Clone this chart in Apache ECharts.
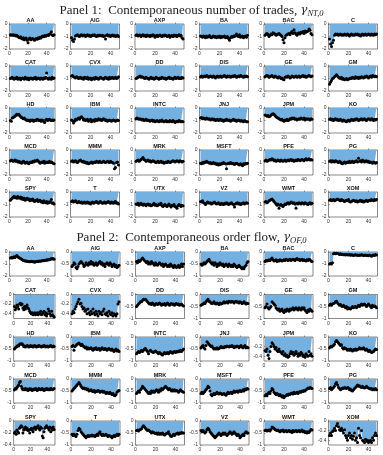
<!DOCTYPE html>
<html><head><meta charset="utf-8">
<script src="https://cdn.jsdelivr.net/npm/echarts@6/dist/echarts.min.js"></script>
<style>html,body{margin:0;padding:0;background:#fff}#c{width:383px;height:455px}</style>
</head><body><div id="c"></div>
<script>
const tickers = ['AA','AIG','AXP','BA','BAC','C','CAT','CVX','DD','DIS','GE','GM','HD','IBM','INTC','JNJ','JPM','KO','MCD','MMM','MRK','MSFT','PFE','PG','SPY','T','UTX','VZ','WMT','XOM'];
const xTicks = [0, 20, 40];

// Panel 1: number of trades
const nt_AA = [-0.85,-0.88,-0.9,-0.85,-0.92,-0.88,-0.95,-0.9,-1.0,-1.05,-1.1,-1.02,-1.15,-1.2,-1.1,-1.25,-1.18,-1.12,-1.3,-1.5,-1.2,-1.12,-1.25,-1.2,-1.15,-1.22,-1.3,-1.2,-1.15,-1.22,-1.1,-1.15,-1.05,-1.12,-1.0,-0.95,-1.02,-0.92,-0.97,-0.9,-0.88,-0.92,-0.82,-0.78,-0.62,-0.88,-0.92,-0.86];
const nt_AIG = [-1.1,-1.3,-1.4,-1.2,-0.95,-0.9,-0.85,-0.95,-1.0,-0.9,-0.85,-0.95,-0.9,-0.88,-1.0,-0.92,-0.85,-0.95,-0.9,-1.0,-0.95,-0.88,-0.92,-0.85,-0.95,-1.0,-0.9,-0.95,-0.88,-0.92,-0.95,-0.9,-1.0,-0.95,-1.2,-0.9,-0.85,-0.95,-0.9,-1.0,-0.92,-0.88,-0.95,-0.9,-1.0,-0.95,-0.9,-1.0];
const nt_AXP = [-0.9,-0.85,-0.95,-0.9,-0.88,-1.0,-0.92,-0.85,-0.95,-0.9,-1.0,-0.88,-0.95,-0.92,-1.0,-0.9,-0.95,-0.85,-0.92,-1.05,-0.95,-0.9,-1.0,-0.92,-0.88,-0.95,-1.0,-0.9,-0.95,-0.88,-0.92,-1.0,-0.95,-0.9,-1.05,-0.95,-0.92,-1.0,-0.88,-0.95,-0.9,-1.0,-0.92,-0.85,-0.95,-0.9,-1.1,-1.2];
const nt_BA = [-0.95,-1.0,-1.05,-0.95,-1.0,-1.1,-0.95,-1.05,-1.0,-0.92,-1.05,-1.1,-1.0,-0.95,-1.05,-1.0,-1.1,-1.0,-1.05,-0.95,-1.1,-1.0,-1.05,-1.0,-0.95,-1.1,-1.05,-1.0,-1.15,-1.3,-1.1,-1.0,-1.05,-0.95,-1.0,-0.9,-0.8,-0.95,-1.0,-0.85,-1.05,-1.0,-0.95,-1.1,-1.0,-0.95,-1.05,-0.9];
const nt_BAC = [-0.9,-0.8,-0.75,-0.85,-1.0,-0.9,-0.8,-0.85,-0.7,-0.75,-0.8,-0.9,-0.85,-0.8,-0.75,-0.85,-0.9,-1.0,-1.25,-1.5,-1.1,-0.9,-0.85,-0.8,-0.75,-0.85,-0.7,-0.6,-0.75,-0.45,-0.7,-0.8,-0.9,-0.75,-0.7,-0.8,-0.65,-0.7,-0.6,-0.75,-0.55,-0.65,-0.6,-0.55,-0.4,-0.5,-0.75,-0.85];
const nt_C = [-1.2,-1.6,-1.8,-1.5,-1.3,-0.9,-0.8,-0.85,-0.8,-0.9,-0.85,-0.8,-0.9,-0.85,-0.9,-0.8,-0.85,-0.9,-0.8,-0.85,-0.95,-0.85,-0.8,-0.9,-0.85,-0.9,-0.8,-0.85,-0.8,-0.9,-0.85,-0.95,-0.85,-0.8,-0.9,-0.85,-0.8,-0.9,-0.85,-0.8,-0.85,-0.9,-0.8,-0.85,-0.9,-0.8,-0.85,-0.8];
const nt_CAT = [-1.0,-0.95,-0.9,-1.0,-1.05,-0.95,-1.0,-0.9,-1.05,-1.0,-0.95,-1.1,-1.0,-0.95,-1.0,-1.05,-0.9,-1.0,-1.05,-0.95,-1.1,-1.0,-0.95,-1.0,-1.05,-0.95,-1.0,-0.9,-1.05,-1.0,-0.95,-1.0,-1.05,-0.95,-1.0,-1.05,-0.95,-1.0,-0.9,-0.55,-1.0,-1.05,-0.95,-1.0,-1.05,-0.9,-1.0,-0.95];
const nt_CVX = [-0.8,-0.75,-0.85,-0.9,-0.95,-0.85,-0.9,-1.0,-0.95,-0.9,-1.0,-0.95,-1.05,-0.9,-0.95,-1.0,-0.9,-1.05,-1.0,-0.95,-1.1,-1.0,-0.95,-1.05,-0.9,-1.0,-0.95,-1.05,-1.0,-0.9,-0.95,-1.0,-1.05,-0.95,-0.9,-1.0,-0.95,-1.05,-0.9,-1.0,-0.95,-0.9,-1.0,-0.95,-0.9,-1.0,-0.95,-0.85];
const nt_DD = [-1.0,-0.95,-0.9,-0.85,-0.8,-0.9,-0.85,-0.9,-0.95,-1.0,-0.9,-0.95,-1.0,-1.05,-0.95,-0.9,-1.0,-0.95,-1.05,-1.0,-0.9,-0.95,-1.0,-1.05,-0.95,-1.0,-0.9,-0.95,-1.0,-0.95,-1.05,-1.0,-0.95,-0.9,-1.0,-0.95,-1.0,-1.05,-0.95,-0.9,-1.0,-0.95,-0.9,-1.0,-0.95,-1.0,-0.9,-0.95];
const nt_DIS = [-0.85,-0.8,-0.9,-0.85,-0.8,-0.85,-0.75,-0.8,-0.9,-0.85,-0.8,-0.85,-0.9,-0.8,-0.85,-0.95,-0.85,-0.8,-0.9,-0.85,-0.8,-0.9,-0.85,-0.8,-0.75,-0.85,-0.9,-0.8,-0.85,-0.8,-0.9,-0.85,-0.8,-0.85,-0.75,-0.8,-0.9,-0.85,-0.8,-0.85,-0.75,-0.8,-0.85,-0.9,-0.8,-0.85,-0.8,-0.85];
const nt_GE = [-0.85,-0.8,-0.75,-0.8,-0.9,-0.85,-0.8,-0.75,-0.85,-0.9,-0.8,-0.85,-0.9,-0.95,-0.85,-0.9,-1.0,-0.95,-1.05,-1.1,-0.9,-0.85,-0.9,-0.8,-0.85,-0.95,-0.9,-0.8,-0.85,-0.9,-0.85,-0.8,-0.9,-0.85,-0.8,-0.9,-0.85,-0.8,-0.75,-0.85,-0.8,-0.9,-0.85,-0.8,-0.75,-0.8,-0.85,-0.8];
const nt_GM = [-1.45,-1.3,-1.15,-1.0,-0.95,-0.85,-0.8,-0.7,-0.8,-0.9,-0.95,-1.0,-0.9,-1.05,-1.0,-1.1,-1.05,-1.0,-1.1,-1.05,-1.0,-0.95,-1.0,-0.9,-0.95,-1.0,-0.85,-0.95,-0.9,-1.0,-0.9,-0.95,-0.85,-0.9,-0.95,-0.85,-0.9,-0.8,-0.85,-0.95,-0.85,-0.8,-0.9,-0.75,-0.8,-0.85,-0.8,-0.85];
const nt_HD = [-1.0,-1.05,-0.8,-0.75,-0.7,-0.65,-0.55,-0.5,-0.55,-0.5,-0.6,-0.7,-0.75,-0.8,-0.85,-0.8,-0.9,-0.95,-1.0,-0.95,-1.0,-1.05,-0.95,-1.0,-0.95,-1.05,-1.0,-0.95,-1.0,-0.9,-0.95,-1.0,-0.95,-1.05,-0.95,-1.0,-1.1,-1.15,-0.95,-0.9,-1.0,-0.95,-0.9,-0.95,-1.0,-0.95,-1.0,-0.95];
const nt_IBM = [-0.95,-1.0,-1.2,-1.05,-0.9,-0.95,-0.85,-0.8,-0.9,-0.75,-0.7,-0.8,-0.95,-0.9,-1.0,-0.95,-0.9,-1.05,-1.0,-0.9,-1.1,-1.0,-0.95,-1.05,-0.9,-1.0,-0.95,-0.85,-0.95,-0.9,-1.0,-0.95,-0.85,-0.9,-1.0,-0.95,-1.05,-1.0,-0.95,-1.0,-1.05,-1.0,-0.95,-1.0,-1.05,-1.0,-0.95,-1.0];
const nt_INTC = [-0.85,-0.8,-0.85,-0.9,-0.85,-0.9,-0.95,-0.9,-1.0,-0.95,-0.9,-1.0,-0.95,-1.0,-1.05,-1.0,-0.95,-1.05,-1.0,-1.1,-1.05,-1.0,-1.05,-1.1,-1.0,-1.05,-0.95,-1.05,-1.1,-1.05,-1.0,-1.1,-1.05,-1.1,-1.0,-1.05,-1.1,-1.0,-1.05,-1.15,-1.1,-1.05,-1.1,-1.0,-1.05,-1.1,-1.05,-1.1];
const nt_JNJ = [-0.8,-0.75,-0.85,-0.8,-0.85,-0.9,-0.8,-0.85,-0.9,-0.85,-0.95,-0.9,-0.85,-0.95,-0.9,-1.0,-0.95,-0.9,-1.0,-0.95,-0.9,-1.0,-0.95,-1.05,-0.95,-1.0,-0.9,-0.95,-1.0,-0.95,-1.05,-1.0,-0.95,-0.9,-1.0,-0.95,-1.05,-1.0,-0.95,-1.0,-1.05,-1.0,-1.05,-1.1,-1.0,-1.05,-1.1,-1.1];
const nt_JPM = [-0.55,-0.6,-0.65,-0.6,-0.7,-0.65,-0.55,-0.5,-0.45,-0.5,-0.6,-0.7,-0.75,-0.8,-0.85,-0.9,-0.95,-0.9,-1.0,-1.05,-0.95,-1.0,-0.9,-1.0,-0.95,-0.85,-0.9,-0.8,-0.85,-0.8,-0.9,-0.85,-0.95,-0.9,-0.85,-0.9,-0.8,-0.85,-0.9,-0.8,-0.95,-0.85,-0.9,-0.85,-0.9,-0.95,-0.85,-0.9];
const nt_KO = [-0.9,-0.85,-0.95,-0.9,-1.0,-0.9,-0.85,-0.95,-0.9,-1.0,-0.95,-0.9,-1.0,-1.05,-0.95,-1.0,-1.05,-1.1,-1.0,-0.95,-1.05,-1.0,-0.9,-0.95,-1.0,-0.9,-0.95,-0.85,-0.9,-1.0,-0.95,-0.9,-0.85,-0.95,-0.9,-0.85,-0.95,-1.0,-0.9,-0.85,-0.9,-0.95,-0.85,-0.9,-1.0,-0.9,-0.95,-0.9];
const nt_MCD = [-0.85,-0.8,-0.85,-0.9,-0.85,-0.8,-0.9,-0.85,-0.95,-0.9,-1.0,-0.95,-1.05,-1.0,-0.9,-0.95,-1.05,-1.0,-0.95,-1.05,-1.1,-1.0,-0.95,-1.0,-0.9,-0.95,-0.85,-0.9,-0.85,-0.8,-0.9,-0.95,-1.05,-1.0,-0.95,-1.0,-0.9,-1.05,-0.95,-1.0,-0.95,-1.0,-0.9,-1.0,-0.95,-1.0,-1.05,-1.1];
const nt_MMM = [-0.9,-0.85,-0.95,-0.9,-0.85,-0.95,-1.0,-0.9,-0.85,-0.8,-0.9,-0.95,-0.9,-1.0,-0.95,-1.05,-1.0,-1.1,-1.05,-1.0,-0.95,-1.05,-1.0,-0.95,-1.0,-0.9,-0.95,-1.0,-0.9,-0.95,-1.0,-0.95,-0.9,-0.95,-1.0,-0.95,-0.9,-0.95,-1.0,-0.9,-0.95,-1.0,-1.05,-1.5,-1.4,-1.0,-0.95,-1.2];
const nt_MRK = [-0.9,-0.85,-0.8,-0.9,-0.85,-0.75,-0.7,-0.6,-0.75,-0.8,-0.9,-0.85,-0.8,-0.9,-0.85,-0.95,-0.9,-0.85,-0.9,-0.95,-1.0,-0.95,-0.9,-1.0,-0.95,-0.9,-1.0,-0.95,-1.05,-1.0,-0.95,-1.0,-0.9,-0.95,-1.0,-0.95,-0.9,-0.85,-0.9,-0.95,-0.9,-0.85,-0.9,-0.95,-0.85,-0.9,-0.95,-0.9];
const nt_MSFT = [-1.05,-1.1,-1.0,-1.05,-0.95,-1.0,-0.9,-0.95,-1.0,-1.05,-1.0,-1.1,-1.05,-1.0,-1.1,-1.05,-1.15,-1.1,-1.2,-1.1,-1.15,-1.05,-1.1,-1.0,-1.05,-1.1,-1.5,-1.1,-1.05,-1.1,-1.0,-1.05,-1.1,-1.05,-1.15,-1.1,-1.05,-1.1,-1.15,-1.2,-1.1,-1.15,-1.25,-1.1,-1.15,-1.05,-1.1,-1.05];
const nt_PFE = [-0.85,-0.8,-0.9,-0.85,-0.8,-0.75,-0.8,-0.7,-0.75,-0.85,-0.8,-0.9,-0.85,-0.8,-0.85,-0.9,-0.8,-0.85,-0.9,-0.85,-0.8,-0.9,-0.85,-0.8,-0.85,-0.8,-0.75,-0.85,-0.8,-0.9,-0.85,-0.8,-0.85,-0.75,-0.8,-0.85,-0.8,-0.75,-0.8,-0.85,-0.75,-0.7,-0.8,-0.75,-0.7,-0.8,-0.75,-0.8];
const nt_PG = [-0.9,-0.85,-0.95,-0.85,-0.9,-0.95,-0.85,-0.9,-0.95,-1.0,-0.9,-0.95,-1.05,-1.1,-1.0,-0.95,-1.05,-1.0,-0.95,-1.0,-0.9,-1.0,-0.95,-0.9,-1.0,-0.95,-0.9,-0.85,-0.95,-0.65,-0.9,-0.85,-0.95,-0.8,-0.85,-0.95,-0.9,-0.85,-0.95,-0.9,-1.0,-0.95,-1.0,-1.05,-0.95,-1.0,-1.05,-1.0];
const nt_SPY = [-0.65,-0.55,-0.5,-0.4,-0.35,-0.45,-0.4,-0.5,-0.35,-0.45,-0.5,-0.4,-0.55,-0.45,-0.6,-0.5,-0.65,-0.55,-0.5,-0.6,-0.55,-0.7,-0.6,-0.65,-0.55,-0.7,-0.75,-0.65,-0.7,-0.6,-0.75,-0.7,-0.65,-0.8,-0.75,-0.85,-0.7,-0.8,-0.85,-0.75,-0.9,-0.8,-0.85,-0.75,-0.6,-0.9,-0.85,-0.95];
const nt_T = [-0.75,-0.7,-0.8,-0.75,-0.7,-0.8,-0.85,-0.75,-0.8,-0.85,-0.8,-0.9,-0.85,-0.8,-0.9,-0.85,-0.8,-0.9,-0.85,-0.95,-0.85,-0.8,-0.9,-0.85,-0.8,-0.75,-0.85,-0.9,-0.8,-0.75,-0.85,-0.9,-0.85,-0.8,-0.9,-0.85,-0.8,-0.75,-0.85,-0.9,-0.8,-0.85,-0.9,-0.8,-0.75,-0.9,-0.85,-0.95];
const nt_UTX = [-0.95,-1.0,-0.9,-1.05,-0.95,-0.9,-1.0,-1.05,-0.95,-1.0,-1.1,-1.0,-0.95,-1.05,-1.0,-1.1,-1.05,-1.0,-0.9,-1.05,-1.0,-1.1,-1.05,-0.95,-1.0,-0.9,-1.1,-1.15,-1.05,-1.0,-1.1,-1.15,-1.05,-0.95,-1.1,-1.2,-1.05,-1.1,-1.0,-1.15,-1.2,-1.3,-1.1,-1.0,-1.05,-1.15,-1.05,-1.1];
const nt_VZ = [-0.75,-0.8,-0.7,-0.85,-0.9,-1.0,-0.9,-0.8,-0.85,-0.9,-0.85,-0.95,-0.9,-0.85,-0.8,-0.9,-0.95,-0.9,-0.85,-0.95,-1.0,-0.9,-0.95,-1.0,-0.9,-0.95,-0.85,-0.9,-1.0,-0.95,-0.9,-0.85,-0.95,-1.0,-1.2,-0.95,-0.9,-0.85,-0.95,-0.9,-1.0,-0.95,-0.9,-0.85,-0.95,-0.9,-0.85,-0.9];
const nt_WMT = [-0.8,-0.75,-0.85,-0.8,-0.7,-0.65,-0.6,-0.55,-0.65,-0.75,-0.85,-0.95,-1.05,-0.95,-1.3,-1.05,-1.0,-1.1,-1.15,-1.05,-0.95,-1.0,-0.9,-0.85,-0.95,-0.9,-0.8,-0.85,-0.9,-0.85,-0.95,-1.3,-0.9,-0.95,-0.85,-0.9,-0.95,-0.85,-0.9,-0.95,-0.85,-0.9,-0.95,-1.0,-0.9,-0.85,-0.95,-0.9];
const nt_XOM = [-0.65,-0.6,-0.7,-0.65,-0.6,-0.7,-0.65,-0.6,-0.55,-0.6,-0.65,-0.7,-0.6,-0.65,-0.7,-0.75,-0.7,-0.65,-0.7,-0.6,-0.75,-0.8,-0.75,-0.7,-0.65,-0.7,-0.75,-0.7,-0.8,-0.75,-0.7,-0.65,-0.75,-0.7,-0.8,-0.75,-0.7,-0.65,-0.75,-0.7,-0.65,-0.7,-0.6,-0.65,-0.7,-0.6,-0.65,-0.6];

// Panel 2: order flow
const of_AA = [-0.5,-0.45,-0.5,-0.45,-0.4,-0.45,-0.35,-0.3,-0.4,-0.45,-0.5,-0.55,-0.6,-0.65,-0.7,-0.72,-0.75,-0.75,-0.78,-0.8,-0.8,-0.82,-0.8,-0.78,-0.82,-0.8,-0.85,-0.82,-0.8,-0.78,-0.8,-0.75,-0.78,-0.75,-0.72,-0.7,-0.72,-0.68,-0.7,-0.65,-0.68,-0.62,-0.65,-0.6,-0.55,-0.58,-0.55,-0.6];
const of_AIG = [-0.6,-0.55,-0.45,-0.5,-0.65,-0.7,-0.6,-0.5,-0.45,-0.4,-0.45,-0.5,-0.6,-0.55,-0.45,-0.5,-0.55,-0.45,-0.5,-0.4,-0.5,-0.45,-0.55,-0.5,-0.45,-0.55,-0.5,-0.45,-0.4,-0.5,-0.45,-0.55,-0.5,-0.6,-0.5,-0.45,-0.5,-0.55,-0.45,-0.5,-0.6,-0.55,-0.5,-0.6,-0.55,-0.65,-0.6,-0.55];
const of_AXP = [-0.4,-0.45,-0.35,-0.4,-0.35,-0.3,-0.25,-0.3,-0.35,-0.4,-0.45,-0.4,-0.5,-0.45,-0.5,-0.4,-0.45,-0.5,-0.55,-0.45,-0.5,-0.55,-0.5,-0.45,-0.5,-0.55,-0.5,-0.6,-0.55,-0.5,-0.55,-0.6,-0.55,-0.6,-0.5,-0.55,-0.6,-0.65,-0.55,-0.6,-0.65,-0.6,-0.55,-0.65,-0.6,-0.5,-0.6,-0.5];
const of_BA = [-0.5,-0.55,-0.5,-0.45,-0.5,-0.45,-0.4,-0.35,-0.3,-0.4,-0.45,-0.5,-0.45,-0.55,-0.45,-0.5,-0.6,-0.5,-0.55,-0.45,-0.5,-0.55,-0.5,-0.6,-0.55,-0.5,-0.55,-0.6,-0.5,-0.55,-0.6,-0.55,-0.6,-0.5,-0.55,-0.6,-0.65,-0.6,-0.55,-0.6,-0.65,-0.7,-0.65,-0.7,-0.6,-0.55,-0.45,-0.4];
const of_BAC = [-0.8,-0.7,-0.75,-0.7,-0.65,-0.7,-0.6,-0.5,-0.65,-0.75,-0.7,-0.65,-0.8,-0.7,-0.75,-0.65,-0.7,-0.75,-0.7,-0.65,-0.7,-0.6,-0.65,-0.7,-0.65,-0.6,-0.7,-0.65,-0.6,-0.65,-0.7,-0.6,-0.55,-0.65,-0.6,-0.7,-0.65,-0.6,-0.7,-0.65,-0.7,-0.75,-0.65,-0.7,-0.6,-0.65,-0.75,-0.8];
const of_C = [-1.0,-0.95,-1.0,-0.9,-0.15,-0.1,-0.15,-0.1,-0.12,-0.15,-0.2,-0.15,-0.2,-0.18,-0.22,-0.2,-0.25,-0.2,-0.22,-0.25,-0.2,-0.28,-0.22,-0.25,-0.3,-0.25,-0.22,-0.28,-0.25,-0.3,-0.25,-0.28,-0.22,-0.25,-0.3,-0.28,-0.25,-0.3,-0.28,-0.32,-0.25,-0.3,-0.35,-0.28,-0.25,-0.3,-0.2,-0.25];
const of_CAT = [-0.25,-0.32,-0.28,-0.22,-0.25,-0.3,-0.2,-0.18,-0.22,-0.2,-0.28,-0.32,-0.25,-0.3,-0.25,-0.22,-0.28,-0.3,-0.35,-0.38,-0.4,-0.38,-0.42,-0.4,-0.38,-0.42,-0.4,-0.38,-0.42,-0.38,-0.4,-0.35,-0.42,-0.4,-0.38,-0.35,-0.42,-0.38,-0.45,-0.4,-0.3,-0.35,-0.4,-0.45,-0.35,-0.42,-0.45,-0.47];
const of_CVX = [-0.4,-0.35,-0.38,-0.3,-0.25,-0.2,-0.15,-0.1,-0.2,-0.18,-0.25,-0.3,-0.28,-0.35,-0.32,-0.4,-0.3,-0.38,-0.42,-0.35,-0.4,-0.3,-0.38,-0.42,-0.35,-0.4,-0.45,-0.35,-0.4,-0.38,-0.42,-0.35,-0.3,-0.4,-0.42,-0.38,-0.45,-0.35,-0.4,-0.42,-0.38,-0.45,-0.4,-0.42,-0.45,-0.4,-0.2,-0.15];
const of_DD = [-0.5,-0.45,-0.4,-0.35,-0.3,-0.3,-0.25,-0.2,-0.22,-0.2,-0.25,-0.3,-0.35,-0.4,-0.38,-0.42,-0.35,-0.4,-0.45,-0.4,-0.38,-0.42,-0.4,-0.35,-0.4,-0.45,-0.4,-0.42,-0.38,-0.45,-0.4,-0.35,-0.42,-0.45,-0.4,-0.38,-0.42,-0.4,-0.45,-0.4,-0.38,-0.42,-0.4,-0.45,-0.42,-0.4,-0.45,-0.48];
const of_DIS = [-0.45,-0.42,-0.4,-0.35,-0.38,-0.3,-0.25,-0.2,-0.28,-0.3,-0.35,-0.38,-0.35,-0.3,-0.38,-0.4,-0.35,-0.38,-0.42,-0.35,-0.4,-0.38,-0.35,-0.3,-0.35,-0.32,-0.3,-0.35,-0.28,-0.3,-0.32,-0.28,-0.3,-0.35,-0.3,-0.28,-0.32,-0.3,-0.35,-0.3,-0.32,-0.38,-0.35,-0.3,-0.35,-0.4,-0.35,-0.38];
const of_GE = [-0.55,-0.5,-0.4,-0.55,-0.6,-0.55,-0.5,-0.3,-0.35,-0.4,-0.45,-0.55,-0.6,-0.65,-0.6,-0.7,-0.65,-0.6,-0.7,-0.75,-0.65,-0.7,-0.6,-0.65,-0.7,-0.6,-0.65,-0.6,-0.55,-0.65,-0.6,-0.55,-0.6,-0.65,-0.55,-0.6,-0.65,-0.55,-0.6,-0.55,-0.65,-0.7,-0.75,-0.65,-0.7,-0.6,-0.65,-0.7];
const of_GM = [-0.45,-0.4,-0.45,-0.4,-0.38,-0.35,-0.3,-0.28,-0.35,-0.4,-0.45,-0.42,-0.48,-0.5,-0.45,-0.5,-0.55,-0.5,-0.6,-0.55,-0.58,-0.6,-0.55,-0.5,-0.55,-0.52,-0.5,-0.55,-0.5,-0.45,-0.5,-0.45,-0.4,-0.45,-0.42,-0.4,-0.45,-0.5,-0.45,-0.4,-0.45,-0.5,-0.55,-0.45,-0.5,-0.48,-0.5,-0.55];
const of_HD = [-0.5,-0.45,-0.42,-0.4,-0.35,-0.38,-0.3,-0.28,-0.3,-0.28,-0.32,-0.4,-0.38,-0.42,-0.4,-0.35,-0.38,-0.42,-0.4,-0.35,-0.4,-0.38,-0.42,-0.38,-0.35,-0.4,-0.42,-0.38,-0.4,-0.35,-0.38,-0.4,-0.42,-0.38,-0.4,-0.35,-0.38,-0.42,-0.4,-0.38,-0.42,-0.4,-0.38,-0.35,-0.4,-0.42,-0.38,-0.4];
const of_IBM = [-0.4,-0.35,-0.55,-0.4,-0.35,-0.3,-0.28,-0.25,-0.3,-0.35,-0.3,-0.38,-0.4,-0.45,-0.42,-0.5,-0.45,-0.5,-0.48,-0.45,-0.5,-0.55,-0.48,-0.5,-0.45,-0.52,-0.5,-0.48,-0.55,-0.5,-0.45,-0.5,-0.52,-0.48,-0.5,-0.55,-0.5,-0.48,-0.52,-0.55,-0.5,-0.55,-0.6,-0.55,-0.5,-0.58,-0.55,-0.6];
const of_INTC = [-0.7,-0.65,-0.6,-0.65,-0.6,-0.55,-0.6,-0.55,-0.5,-0.48,-0.55,-0.6,-0.7,-0.58,-0.55,-0.6,-0.62,-0.65,-0.6,-0.58,-0.62,-0.65,-0.7,-0.65,-0.68,-0.72,-0.75,-0.7,-0.65,-0.7,-0.68,-0.65,-0.7,-0.65,-0.6,-0.65,-0.68,-0.62,-0.6,-0.65,-0.6,-0.62,-0.58,-0.6,-0.55,-0.6,-0.55,-0.5];
const of_JNJ = [-0.45,-0.4,-0.35,-0.45,-0.5,-0.35,-0.2,-0.25,-0.3,-0.35,-0.4,-0.38,-0.45,-0.5,-0.48,-0.5,-0.45,-0.5,-0.48,-0.45,-0.4,-0.45,-0.42,-0.45,-0.4,-0.42,-0.38,-0.4,-0.42,-0.38,-0.4,-0.35,-0.4,-0.45,-0.4,-0.42,-0.38,-0.4,-0.45,-0.4,-0.35,-0.42,-0.45,-0.4,-0.35,-0.45,-0.42,-0.45];
const of_JPM = [-0.28,-0.3,-0.25,-0.38,-0.45,-0.3,-0.2,-0.12,-0.15,-0.2,-0.25,-0.22,-0.28,-0.3,-0.25,-0.3,-0.32,-0.35,-0.3,-0.38,-0.35,-0.4,-0.38,-0.42,-0.4,-0.35,-0.3,-0.35,-0.32,-0.38,-0.35,-0.3,-0.35,-0.4,-0.35,-0.38,-0.32,-0.35,-0.4,-0.38,-0.42,-0.35,-0.38,-0.4,-0.3,-0.38,-0.35,-0.4];
const of_KO = [-0.45,-0.4,-0.42,-0.38,-0.35,-0.3,-0.2,-0.15,-0.2,-0.25,-0.3,-0.35,-0.32,-0.45,-0.5,-0.45,-0.48,-0.5,-0.55,-0.52,-0.55,-0.5,-0.55,-0.58,-0.52,-0.55,-0.5,-0.55,-0.52,-0.5,-0.45,-0.5,-0.48,-0.5,-0.45,-0.5,-0.55,-0.5,-0.55,-0.6,-0.55,-0.6,-0.65,-0.62,-0.6,-0.55,-0.5,-0.52];
const of_MCD = [-0.45,-0.4,-0.42,-0.35,-0.3,-0.25,-0.15,-0.1,-0.3,-0.4,-0.45,-0.42,-0.45,-0.4,-0.45,-0.42,-0.48,-0.45,-0.4,-0.45,-0.42,-0.48,-0.45,-0.42,-0.45,-0.4,-0.42,-0.48,-0.45,-0.4,-0.42,-0.45,-0.42,-0.4,-0.45,-0.48,-0.42,-0.45,-0.4,-0.42,-0.45,-0.42,-0.45,-0.4,-0.42,-0.45,-0.42,-0.4];
const of_MMM = [-0.5,-0.45,-0.4,-0.35,-0.3,-0.25,-0.2,-0.15,-0.22,-0.3,-0.35,-0.4,-0.38,-0.42,-0.4,-0.45,-0.42,-0.5,-0.48,-0.45,-0.5,-0.52,-0.48,-0.55,-0.5,-0.52,-0.48,-0.5,-0.55,-0.52,-0.5,-0.55,-0.52,-0.55,-0.6,-0.55,-0.58,-0.6,-0.55,-0.6,-0.65,-0.6,-0.68,-0.7,-0.65,-0.55,-0.5,-0.48];
const of_MRK = [-0.6,-0.55,-0.5,-0.55,-0.45,-0.4,-0.3,-0.35,-0.4,-0.45,-0.5,-0.55,-0.6,-0.55,-0.6,-0.5,-0.55,-0.5,-0.55,-0.5,-0.45,-0.5,-0.55,-0.45,-0.5,-0.4,-0.45,-0.4,-0.35,-0.3,-0.35,-0.4,-0.45,-0.4,-0.45,-0.5,-0.45,-0.5,-0.45,-0.5,-0.48,-0.5,-0.55,-0.5,-0.45,-0.5,-0.52,-0.55];
const of_MSFT = [-0.6,-0.55,-0.6,-0.55,-0.5,-0.45,-0.4,-0.3,-0.35,-0.5,-0.65,-0.7,-0.65,-0.6,-0.65,-0.6,-0.55,-0.6,-0.62,-0.58,-0.6,-0.65,-0.62,-0.6,-0.65,-0.68,-0.6,-0.55,-0.6,-0.58,-0.55,-0.6,-0.55,-0.5,-0.55,-0.52,-0.5,-0.55,-0.5,-0.48,-0.52,-0.5,-0.45,-0.5,-0.42,-0.45,-0.4,-0.42];
const of_PFE = [-0.7,-0.65,-0.7,-0.6,-0.55,-0.6,-0.5,-0.4,-0.45,-0.55,-0.6,-0.65,-0.6,-0.65,-0.7,-0.65,-0.7,-0.75,-0.7,-0.78,-0.72,-0.7,-0.65,-0.68,-0.62,-0.65,-0.6,-0.58,-0.62,-0.55,-0.6,-0.58,-0.55,-0.6,-0.55,-0.52,-0.55,-0.5,-0.52,-0.48,-0.5,-0.45,-0.42,-0.38,-0.4,-0.35,-0.38,-0.4];
const of_PG = [-0.4,-0.35,-0.45,-0.4,-0.35,-0.3,-0.2,-0.15,-0.25,-0.35,-0.4,-0.45,-0.42,-0.38,-0.4,-0.35,-0.38,-0.4,-0.35,-0.38,-0.45,-0.42,-0.48,-0.5,-0.45,-0.4,-0.35,-0.3,-0.25,-0.3,-0.28,-0.32,-0.35,-0.3,-0.35,-0.38,-0.35,-0.3,-0.35,-0.38,-0.4,-0.42,-0.4,-0.45,-0.42,-0.45,-0.4,-0.45];
const of_SPY = [-0.2,-0.18,-0.22,-0.15,-0.18,-0.2,-0.12,-0.1,-0.08,-0.1,-0.2,-0.15,-0.12,-0.1,-0.14,-0.12,-0.16,-0.15,-0.2,-0.14,-0.12,-0.15,-0.18,-0.12,-0.1,-0.14,-0.12,-0.1,-0.08,-0.12,-0.15,-0.1,-0.12,-0.25,-0.28,-0.18,-0.12,-0.1,-0.08,-0.1,-0.12,-0.15,-0.1,-0.18,-0.12,-0.15,-0.1,-0.14];
const of_T = [-0.55,-0.6,-0.55,-0.6,-0.65,-0.55,-0.4,-0.3,-0.35,-0.45,-0.5,-0.55,-0.6,-0.65,-0.7,-0.65,-0.6,-0.65,-0.6,-0.62,-0.58,-0.62,-0.6,-0.65,-0.6,-0.55,-0.6,-0.5,-0.45,-0.55,-0.6,-0.55,-0.6,-0.58,-0.55,-0.6,-0.65,-0.6,-0.62,-0.65,-0.7,-0.65,-0.6,-0.65,-0.6,-0.55,-0.6,-0.55];
const of_UTX = [-0.4,-0.38,-0.42,-0.38,-0.35,-0.32,-0.25,-0.2,-0.25,-0.3,-0.35,-0.4,-0.38,-0.42,-0.45,-0.5,-0.45,-0.48,-0.5,-0.52,-0.5,-0.55,-0.5,-0.55,-0.52,-0.55,-0.5,-0.55,-0.58,-0.55,-0.52,-0.5,-0.45,-0.55,-0.62,-0.65,-0.6,-0.55,-0.6,-0.55,-0.52,-0.5,-0.55,-0.5,-0.52,-0.48,-0.5,-0.5];
const of_VZ = [-0.4,-0.45,-0.4,-0.45,-0.5,-0.45,-0.35,-0.3,-0.35,-0.45,-0.5,-0.55,-0.6,-0.65,-0.7,-0.65,-0.6,-0.55,-0.5,-0.55,-0.6,-0.55,-0.5,-0.55,-0.5,-0.55,-0.6,-0.55,-0.5,-0.45,-0.5,-0.55,-0.5,-0.45,-0.5,-0.55,-0.6,-0.55,-0.6,-0.7,-0.65,-0.6,-0.55,-0.6,-0.5,-0.45,-0.5,-0.5];
const of_WMT = [-0.4,-0.38,-0.42,-0.4,-0.38,-0.42,-0.35,-0.25,-0.28,-0.3,-0.35,-0.38,-0.4,-0.38,-0.42,-0.45,-0.4,-0.42,-0.38,-0.45,-0.42,-0.4,-0.45,-0.42,-0.4,-0.45,-0.42,-0.48,-0.4,-0.45,-0.42,-0.4,-0.45,-0.42,-0.4,-0.45,-0.42,-0.38,-0.45,-0.42,-0.48,-0.45,-0.5,-0.45,-0.48,-0.42,-0.35,-0.38];
const of_XOM = [-0.3,-0.25,-0.3,-0.22,-0.2,-0.15,-0.2,-0.1,-0.05,-0.12,-0.18,-0.2,-0.15,-0.2,-0.25,-0.18,-0.3,-0.35,-0.4,-0.3,-0.25,-0.35,-0.3,-0.38,-0.32,-0.25,-0.4,-0.35,-0.45,-0.15,-0.3,-0.35,-0.2,-0.4,-0.42,-0.45,-0.38,-0.42,-0.4,-0.45,-0.42,-0.4,-0.45,-0.35,-0.4,-0.3,-0.25,-0.3];

const ntData = [nt_AA,nt_AIG,nt_AXP,nt_BA,nt_BAC,nt_C,nt_CAT,nt_CVX,nt_DD,nt_DIS,nt_GE,nt_GM,nt_HD,nt_IBM,nt_INTC,nt_JNJ,nt_JPM,nt_KO,nt_MCD,nt_MMM,nt_MRK,nt_MSFT,nt_PFE,nt_PG,nt_SPY,nt_T,nt_UTX,nt_VZ,nt_WMT,nt_XOM];
const ofData = [of_AA,of_AIG,of_AXP,of_BA,of_BAC,of_C,of_CAT,of_CVX,of_DD,of_DIS,of_GE,of_GM,of_HD,of_IBM,of_INTC,of_JNJ,of_JPM,of_KO,of_MCD,of_MMM,of_MRK,of_MSFT,of_PFE,of_PG,of_SPY,of_T,of_UTX,of_VZ,of_WMT,of_XOM];

// y-axis lower limits and tick labels
const ntMin = -2;
const ntTicks = [0, -1, -2];
const ofMin = [-2,-1,-1,-1,-2,-2, -0.5,-0.5,-1,-1,-1,-1, -1,-1,-1,-1,-0.5,-1, -1,-1,-1,-1,-1,-1, -0.4,-1,-1,-1,-1,-0.5];
const T1 = [0,-1,-2], T5 = [0,-0.5,-1], T2 = [0,-0.2,-0.4];
const ofTicks = [T1,T5,T5,T5,T1,T1, T2,T2,T5,T5,T5,T5, T5,T5,T5,T5,T2,T5, T5,T5,T5,T5,T5,T5, T2,T5,T5,T5,T5,T2];

// layout
const colLeft1 = [6, 70.5, 135, 199.5, 264, 328.5];
const colLeft2 = [6, 71, 135.5, 200, 264, 328.5];
const plotW = 49;
const rowTop1 = [24, 66, 108, 150, 192];
const rowTop2 = [252, 294.5, 337, 379, 421];
const plotH1 = 25, plotH2 = 24;
const fill = '#74b0e0';

const grids = [], xAxes = [], yAxes = [], series = [], titles = [];
function addPlot(idx, name, data, left, top, h, ymin, yticks) {
  grids.push({left: left, top: top, width: plotW, height: h, show: true, borderColor: '#3a3a3a', borderWidth: 0.6, backgroundColor: '#fff', containLabel: false});
  xAxes.push({type: 'value', gridIndex: idx, min: 0, max: 49,
    axisLine: {show: false}, splitLine: {show: false},
    axisTick: {show: true, inside: true, length: 1.5, lineStyle: {color: '#3a3a3a', width: 0.5}, customValues: xTicks},
    axisLabel: {show: true, fontSize: 5, color: '#333', margin: 2.5, fontFamily: 'Liberation Sans', customValues: xTicks}});
  yAxes.push({type: 'value', gridIndex: idx, min: ymin, max: 0,
    axisLine: {show: false}, splitLine: {show: false},
    axisTick: {show: true, inside: true, length: 1.5, lineStyle: {color: '#3a3a3a', width: 0.5}, customValues: yticks},
    axisLabel: {show: true, fontSize: 5, color: '#333', margin: 2, fontFamily: 'Liberation Sans', customValues: yticks}});
  series.push({type: 'line', xAxisIndex: idx, yAxisIndex: idx,
    data: data.map((v, i) => [i + 1, v]),
    symbol: 'circle', symbolSize: 3, showSymbol: true,
    itemStyle: {color: '#000'},
    lineStyle: {width: 0, opacity: 0},
    areaStyle: {origin: 'end', color: fill, opacity: 1},
    silent: true, animation: false});
  titles.push({text: name, left: left + plotW / 2, top: top - 7, textAlign: 'center', padding: 0,
    textStyle: {fontSize: 5.5, fontWeight: 'bold', color: '#111', fontFamily: 'Liberation Sans'}});
}

tickers.forEach((name, i) => {
  const r = Math.floor(i / 6), c = i % 6;
  addPlot(i, name, ntData[i], colLeft1[c], rowTop1[r], plotH1, ntMin, ntTicks);
});
tickers.forEach((name, i) => {
  const r = Math.floor(i / 6), c = i % 6;
  addPlot(30 + i, name, ofData[i], colLeft2[c], rowTop2[r], plotH2, ofMin[i], ofTicks[i]);
});

const mainStyle = {
  fontFamily: 'Liberation Serif', fontSize: 13, fontWeight: 'normal', color: '#222',
  rich: {
    t: {fontFamily: 'Liberation Serif', fontSize: 13, fontWeight: 'normal', color: '#222'},
    g: {fontFamily: 'DejaVu Serif', fontStyle: 'italic', fontWeight: 'normal', fontSize: 11.5, color: '#222'},
    s: {fontFamily: 'Liberation Serif', fontStyle: 'italic', fontWeight: 'normal', fontSize: 8.5, color: '#222', padding: [6, 0, 0, 0]}
  }
};
titles.push({text: '{t|Panel 1:  Contemporaneous number of trades, }{g|γ}{s|NT,0}', left: 'center', top: 3, padding: 0, textStyle: mainStyle});
titles.push({text: '{t|Panel 2:  Contemporaneous order flow, }{g|γ}{s|OF,0}', left: 'center', top: 230, padding: 0, textStyle: mainStyle});

const chart = echarts.init(document.getElementById('c'), null, {renderer: 'canvas'});
chart.setOption({animation: false, backgroundColor: '#fff', title: titles, grid: grids, xAxis: xAxes, yAxis: yAxes, series: series});
</script></body></html>
